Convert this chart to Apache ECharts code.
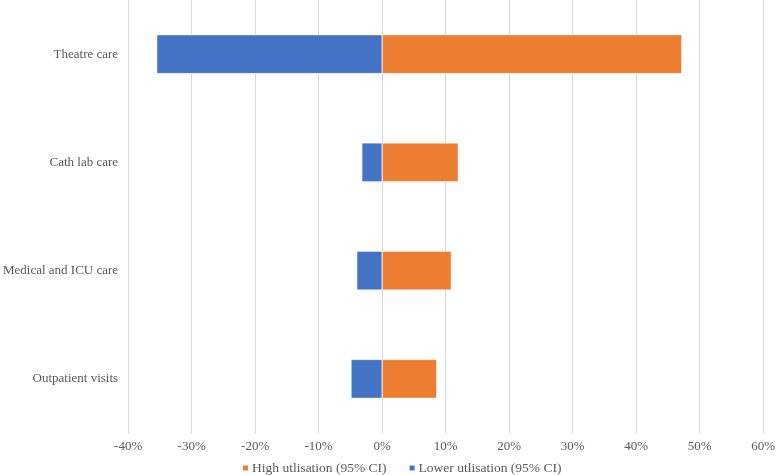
<!DOCTYPE html>
<html>
<head>
<meta charset="utf-8">
<script src="https://cdn.jsdelivr.net/npm/echarts@6/dist/echarts.min.js"></script>
<style>html,body{margin:0;padding:0;background:#fff}#c{width:778px;height:475px}</style>
</head>
<body>
<div id="c"></div>
<script>
const categories = ["Theatre care", "Cath lab care", "Medical and ICU care", "Outpatient visits"];
const highUtil = [47.2, 12.0, 10.9, 8.6];
const lowerUtil = [-35.5, -3.2, -4.0, -4.9];
const seriesNames = ["High utlisation (95% CI)", "Lower utlisation (95% CI)"];

const chart = echarts.init(document.getElementById('c'), null, {renderer: 'canvas'});
const font = "'Liberation Serif', 'Times New Roman', serif";
chart.setOption({
  animation: false,
  textStyle: {fontFamily: font},
  grid: {left: 123, right: 12, top: 0, bottom: 42, containLabel: false},
  legend: {
    top: 461, left: 241, padding: 0,
    itemWidth: 7, itemHeight: 7, itemGap: 21, icon: 'rect',
    textStyle: {fontFamily: font, fontSize: 13.5, color: '#595959', padding: [0, 0, 0, -2]},
    data: seriesNames
  },
  xAxis: {
    type: 'value', min: -40, max: 60, interval: 10,
    axisLine: {show: false}, axisTick: {show: false},
    axisLabel: {formatter: '{value}%', fontFamily: font, fontSize: 13, color: '#595959', margin: 7},
    splitLine: {show: true, lineStyle: {color: '#d9d9d9', width: 1}}
  },
  yAxis: {
    type: 'category', data: categories, inverse: true,
    axisLine: {show: false}, axisTick: {show: false},
    axisLabel: {fontFamily: font, fontSize: 13, color: '#595959', margin: 10},
    splitLine: {show: false}
  },
  series: [
    {name: seriesNames[0], type: 'bar', data: highUtil, barWidth: '36%', barGap: '-100%',
     itemStyle: {color: '#ED7D31', borderColor: '#fff', borderWidth: 0.5}},
    {name: seriesNames[1], type: 'bar', data: lowerUtil, barWidth: '36%', barGap: '-100%',
     itemStyle: {color: '#4472C4', borderColor: '#fff', borderWidth: 0.5}}
  ]
});
</script>
</body>
</html>
